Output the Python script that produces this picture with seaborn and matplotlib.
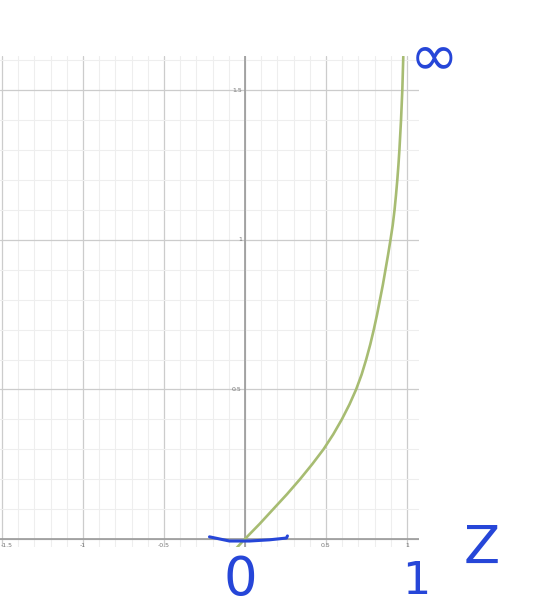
import pandas as pd
from matplotlib import pyplot as plt
import seaborn as sns

# curve
curve_x = [-0.06, 0, 0.09, 0.175, 0.26, 0.34, 0.415, 0.485, 0.545, 0.598, 0.645,
           0.686, 0.72, 0.748, 0.773, 0.795, 0.815, 0.833, 0.851, 0.867, 0.883,
           0.898, 0.912, 0.923, 0.932, 0.940, 0.947, 0.953, 0.963, 0.971, 0.977]
curve_y = [-0.035, 0, 0.05, 0.1, 0.15, 0.2, 0.25, 0.3, 0.35, 0.4, 0.45,
           0.5, 0.55, 0.6, 0.65, 0.7, 0.75, 0.8, 0.85, 0.9, 0.95,
           1.0, 1.05, 1.1, 1.15, 1.2, 1.25, 1.3, 1.4, 1.5, 1.613]

x_ticks = [-1.5, -1, -0.5, 0.5, 1]
x_tick_labels = ['-1.5', '-1', '-0.5', '0.5', '1']
y_ticks = [0.5, 1, 1.5]
y_tick_labels = ['0.5', '1', '1.5']

# blue pen stroke under the origin
pen_x = [-0.219, -0.096, 0.028, 0.151, 0.256, 0.262]
pen_y = [0.007, -0.007, -0.007, -0.003, 0.003, 0.01]

sns.set_style('white')
df = pd.DataFrame({'x': curve_x, 'y': curve_y})

fig = plt.figure(figsize=(5.54, 6.12), dpi=100)
ax = fig.add_axes([0, 65 / 612, 419 / 554, 491 / 612])
ax.set_xlim(-1.512, 1.074)
ax.set_ylim(-0.027, 1.615)

ax.xaxis.set_major_locator(plt.MultipleLocator(0.5))
ax.xaxis.set_minor_locator(plt.MultipleLocator(0.1))
ax.yaxis.set_major_locator(plt.MultipleLocator(0.5))
ax.yaxis.set_minor_locator(plt.MultipleLocator(0.1))
ax.grid(which='minor', color='#eeeeee', lw=0.8)
ax.grid(which='major', color='#cccccc', lw=0.9)
ax.tick_params(which='both', length=0, labelbottom=False, labelleft=False)
for s in ax.spines.values():
    s.set_visible(False)
ax.axhline(0, color='#9a9a9a', lw=1.2)
ax.axvline(0, color='#9a9a9a', lw=1.2)

for t, lab in zip(x_ticks, x_tick_labels):
    if t == x_ticks[0]:
        ax.text(-1.505, -0.012, lab, ha='left', va='top', fontsize=4.5, color='#777777')
    else:
        ax.text(t, -0.012, lab, ha='center', va='top', fontsize=4.5, color='#777777')
for t, lab in zip(y_ticks, y_tick_labels):
    ax.text(-0.02, t, lab, ha='right', va='center', fontsize=4.5, color='#777777')

sns.lineplot(data=df, x='x', y='y', sort=False, color='#a7bc72', lw=1.9, ax=ax)
ax.set_xlabel('')
ax.set_ylabel('')

blue = '#2646d8'
ax.plot(pen_x, pen_y, color=blue, lw=2.2, solid_capstyle='round', clip_on=False)
fig.text(434 / 554, 1 - 58 / 612, '∞', color=blue, fontsize=42, ha='center', va='center')
fig.text(240 / 554, 1 - 580 / 612, '0', color=blue, fontsize=38, ha='center', va='center')
fig.text(416 / 554, 1 - 582 / 612, '1', color=blue, fontsize=32, ha='center', va='center')
fig.text(482 / 554, 1 - 549 / 612, 'Z', color=blue, fontsize=38, ha='center', va='center')

fig.savefig('out.png', dpi=100)
